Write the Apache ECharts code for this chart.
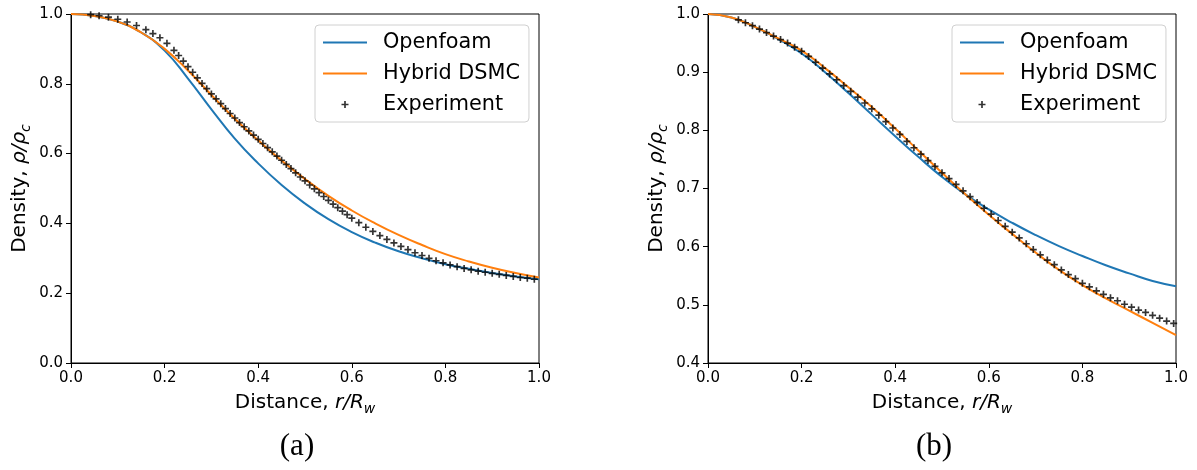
<!DOCTYPE html>
<html>
<head>
<meta charset="utf-8">
<script src="https://cdn.jsdelivr.net/npm/echarts@6/dist/echarts.min.js"></script>
<style>
  html, body { margin: 0; padding: 0; background: #fff; }
  #chart { width: 1197px; height: 470px; }
</style>
</head>
<body>
<div id="chart"></div>
<script>
// Radial positions shared by the simulated profiles
const rLine = [0.00, 0.05, 0.10, 0.15, 0.20, 0.25, 0.30, 0.35, 0.40, 0.45, 0.50,
               0.55, 0.60, 0.65, 0.70, 0.75, 0.80, 0.85, 0.90, 0.95, 1.00];

// Case (a): simulated density profiles
const openfoamA = [1.000, 0.994, 0.978, 0.947, 0.895, 0.815, 0.727, 0.643, 0.572, 0.510, 0.457,
                   0.412, 0.375, 0.345, 0.320, 0.300, 0.283, 0.270, 0.258, 0.248, 0.240];
const hybridA   = [1.000, 0.994, 0.978, 0.947, 0.900, 0.838, 0.768, 0.700, 0.638, 0.580, 0.527,
                   0.479, 0.437, 0.400, 0.367, 0.338, 0.312, 0.291, 0.273, 0.258, 0.245];

// Case (a): measured density
const expRA = [0.042, 0.06, 0.08, 0.10, 0.12, 0.14, 0.16, 0.175, 0.19, 0.205,
               0.22, 0.23, 0.24, 0.25, 0.26, 0.27, 0.28, 0.29, 0.30, 0.31,
               0.32, 0.33, 0.34, 0.35, 0.36, 0.37, 0.38, 0.39, 0.40, 0.41,
               0.42, 0.43, 0.44, 0.45, 0.46, 0.47, 0.48, 0.49, 0.50, 0.51,
               0.52, 0.53, 0.54, 0.55, 0.56, 0.57, 0.58, 0.59, 0.60, 0.615,
               0.63, 0.645, 0.66, 0.675, 0.69, 0.705, 0.72, 0.735, 0.75, 0.765,
               0.78, 0.795, 0.81, 0.825, 0.84, 0.855, 0.87, 0.885, 0.90, 0.915,
               0.93, 0.945, 0.96, 0.975, 0.99];
const expA  = [0.998, 0.995, 0.991, 0.985, 0.977, 0.967, 0.955, 0.944, 0.932, 0.916,
               0.896, 0.881, 0.865, 0.849, 0.833, 0.817, 0.801, 0.786, 0.771, 0.757,
               0.743, 0.729, 0.715, 0.702, 0.689, 0.677, 0.665, 0.653, 0.641, 0.629,
               0.617, 0.605, 0.593, 0.581, 0.569, 0.557, 0.545, 0.533, 0.522, 0.510,
               0.499, 0.488, 0.477, 0.466, 0.455, 0.445, 0.435, 0.425, 0.415, 0.402,
               0.389, 0.377, 0.365, 0.354, 0.344, 0.334, 0.325, 0.316, 0.308, 0.300,
               0.293, 0.287, 0.281, 0.276, 0.271, 0.267, 0.263, 0.260, 0.257, 0.254,
               0.251, 0.248, 0.245, 0.243, 0.240];

// Case (b): simulated density profiles
const openfoamB = [1.000, 0.994, 0.978, 0.957, 0.932, 0.900, 0.864, 0.827, 0.790, 0.754, 0.720,
                   0.690, 0.664, 0.641, 0.620, 0.601, 0.584, 0.568, 0.554, 0.541, 0.532];
const hybridB   = [1.000, 0.994, 0.978, 0.958, 0.937, 0.907, 0.874, 0.840, 0.803, 0.765, 0.727,
                   0.690, 0.655, 0.622, 0.590, 0.560, 0.534, 0.511, 0.490, 0.469, 0.448];

// Case (b): measured density
const expRB = [0.065, 0.08, 0.095, 0.11, 0.125, 0.14, 0.155, 0.17, 0.185, 0.20,
               0.215, 0.23, 0.245, 0.26, 0.275, 0.29, 0.305, 0.32, 0.335, 0.35,
               0.365, 0.38, 0.395, 0.41, 0.425, 0.44, 0.455, 0.47, 0.485, 0.50,
               0.515, 0.53, 0.545, 0.56, 0.575, 0.59, 0.605, 0.62, 0.635, 0.65,
               0.665, 0.68, 0.695, 0.71, 0.725, 0.74, 0.755, 0.77, 0.785, 0.80,
               0.815, 0.83, 0.845, 0.86, 0.875, 0.89, 0.905, 0.92, 0.935, 0.95,
               0.965, 0.98, 0.995];
const expB  = [0.990, 0.985, 0.980, 0.974, 0.968, 0.962, 0.956, 0.950, 0.943, 0.936,
               0.927, 0.917, 0.907, 0.897, 0.887, 0.877, 0.867, 0.857, 0.847, 0.837,
               0.826, 0.815, 0.804, 0.793, 0.781, 0.770, 0.759, 0.748, 0.738, 0.727,
               0.717, 0.707, 0.696, 0.686, 0.676, 0.666, 0.656, 0.645, 0.635, 0.625,
               0.615, 0.605, 0.595, 0.586, 0.577, 0.569, 0.560, 0.552, 0.545, 0.537,
               0.531, 0.524, 0.518, 0.512, 0.507, 0.501, 0.496, 0.491, 0.487, 0.482,
               0.477, 0.472, 0.468];

const seriesNames = ['Openfoam', 'Hybrid DSMC', 'Experiment'];
const panelLabels = ['(a)', '(b)'];

const BLUE = '#1f77b4';
const ORANGE = '#ff7f0e';
const FONT = "'DejaVu Sans', sans-serif";
// thin "+" marker built from two filled bars
const PLUS = 'path://M0,3.8H10V6.2H0Z M3.8,0H6.2V10H3.8Z';
// flat bar used as the legend key of a line series
const LINE_KEY = 'path://M0,0H44V2H0Z';

const zip = (xs, ys) => xs.map((x, i) => [x, ys[i]]);

const grids = [
  { left: 71, top: 14, width: 468, height: 349 },
  { left: 708, top: 14, width: 468, height: 349 }
];

const nameRich = {
  n: { fontSize: 20, fontFamily: FONT, color: '#000' },
  i: { fontSize: 20, fontFamily: FONT, fontStyle: 'italic', color: '#000' },
  s: { fontSize: 14, fontFamily: FONT, fontStyle: 'italic', color: '#000',
       verticalAlign: 'bottom', padding: [13, 0, 0, 0] }
};

function xAxisFor(idx) {
  return {
    type: 'value', gridIndex: idx, min: 0, max: 1, interval: 0.2,
    name: '{n|Distance, }{i|r/R}{s|w}',
    nameLocation: 'middle', nameGap: 26,
    nameTextStyle: { rich: nameRich },
    axisLine: { show: true, onZero: false, lineStyle: { color: '#000', width: 1 } },
    axisTick: { show: true, inside: false, length: 5, lineStyle: { color: '#000' } },
    axisLabel: { color: '#000', fontSize: 15, fontFamily: FONT, margin: 8,
                 formatter: v => v.toFixed(1) },
    splitLine: { show: false }
  };
}

function yAxisFor(idx, min, interval) {
  return {
    type: 'value', gridIndex: idx, min: min, max: 1, interval: interval,
    name: '{n|Density, }{i|ρ/ρ}{s|c}',
    nameLocation: 'middle', nameRotate: 90, nameGap: 38,
    nameTextStyle: { rich: nameRich },
    axisLine: { show: true, onZero: false, lineStyle: { color: '#000', width: 1 } },
    axisTick: { show: true, inside: false, length: 5, lineStyle: { color: '#000' } },
    axisLabel: { color: '#000', fontSize: 15, fontFamily: FONT, margin: 8,
                 formatter: v => v.toFixed(1) },
    splitLine: { show: false }
  };
}

function legendAt(left) {
  return {
    orient: 'vertical', left: left, top: 25,
    data: [
      { name: seriesNames[0], icon: LINE_KEY },
      { name: seriesNames[1], icon: LINE_KEY },
      { name: seriesNames[2] }
    ],
    itemWidth: 44, itemHeight: 7, itemGap: 10,
    padding: [7, 9, 7, 8],
    backgroundColor: '#fff', borderColor: '#d0d0d0', borderWidth: 1, borderRadius: 4,
    selectedMode: false,
    textStyle: { fontSize: 20.8, fontFamily: FONT, color: '#000', lineHeight: 21, padding: [0, 0, 0, 11] }
  };
}

function panelSeries(idx, foam, hybrid, expR, exp) {
  return [
    { name: seriesNames[0], type: 'line', xAxisIndex: idx, yAxisIndex: idx,
      data: zip(rLine, foam), symbol: 'none', smooth: 0.5,
      lineStyle: { color: BLUE, width: 2 }, itemStyle: { color: BLUE }, z: 2 },
    { name: seriesNames[1], type: 'line', xAxisIndex: idx, yAxisIndex: idx,
      data: zip(rLine, hybrid), symbol: 'none', smooth: 0.5,
      lineStyle: { color: ORANGE, width: 2 }, itemStyle: { color: ORANGE }, z: 3 },
    { name: seriesNames[2], type: 'scatter', xAxisIndex: idx, yAxisIndex: idx,
      data: zip(expR, exp), symbol: PLUS, symbolSize: 7,
      itemStyle: { color: '#000' }, z: 4 }
  ];
}

const chart = echarts.init(document.getElementById('chart'), null, { renderer: 'canvas' });
chart.setOption({
  animation: false,
  backgroundColor: '#fff',
  grid: grids.map(g => Object.assign({ show: true, borderColor: '#000', borderWidth: 1,
                                       backgroundColor: 'transparent' }, g)),
  xAxis: [xAxisFor(0), xAxisFor(1)],
  yAxis: [yAxisFor(0, 0, 0.2), yAxisFor(1, 0.4, 0.1)],
  legend: [legendAt(315), legendAt(952)],
  series: [].concat(
    panelSeries(0, openfoamA, hybridA, expRA, expA),
    panelSeries(1, openfoamB, hybridB, expRB, expB)
  ),
  graphic: panelLabels.map((t, i) => ({
    type: 'text',
    x: grids[i].left + grids[i].width / 2 - 8,
    y: 447,
    style: { text: t, font: "31px 'Liberation Serif', serif", fill: '#000',
             align: 'center', verticalAlign: 'middle' }
  }))
});
</script>
</body>
</html>
